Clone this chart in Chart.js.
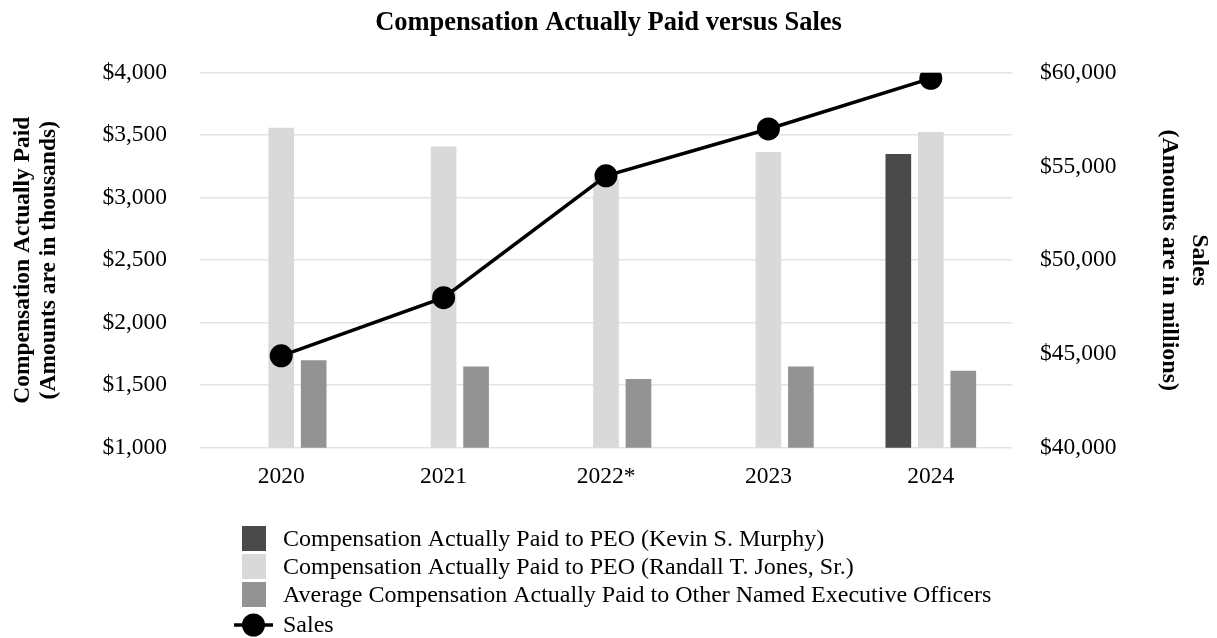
<!DOCTYPE html>
<html><head><meta charset="utf-8">
<script src="https://cdn.jsdelivr.net/npm/chart.js@4/dist/chart.umd.min.js"></script>
<style>html,body{margin:0;padding:0;background:#fff}#wrap{position:relative;width:1217px;height:638px}</style>
</head><body><div id="wrap"><canvas id="c" width="1217" height="638"></canvas></div>
<script>
// ---- data ----
const categories = ['2020', '2021', '2022*', '2023', '2024'];
const capMurphy = [null, null, null, null, 3350];
const capJones = [3560, 3410, 3150, 3365, 3525];
const capOtherNEO = [1700, 1650, 1550, 1650, 1615];
const sales = [44900, 48000, 54500, 57000, 59700];
const seriesLabels = [
  'Compensation Actually Paid to PEO (Kevin S. Murphy)',
  'Compensation Actually Paid to PEO (Randall T. Jones, Sr.)',
  'Average Compensation Actually Paid to Other Named Executive Officers',
  'Sales'
];
const titleText = 'Compensation Actually Paid versus Sales';
const leftAxisTitle = ['Compensation Actually Paid', '(Amounts are in thousands)'];
const rightAxisTitle = ['Sales', '(Amounts are in millions)'];

// ---- styles ----
const SERIF = "'Liberation Serif', 'Times New Roman', serif";
const colMurphy = '#4a4a4a', colJones = '#d9d9d9', colNEO = '#939393';
const fmt = v => '$' + Number(v).toLocaleString('en-US');

const legendPlugin = {
  id: 'customLegend',
  afterDraw(chart) {
    const ctx = chart.ctx;
    const ds = chart.data.datasets;
    ctx.save();
    ctx.font = "24px " + SERIF;
    ctx.textBaseline = 'middle';
    ctx.textAlign = 'left';
    const rows = [538.5, 566.5, 594.5, 625];
    for (let i = 0; i < 3; i++) {
      ctx.fillStyle = ds[i].backgroundColor;
      ctx.fillRect(242, rows[i] - 12.5, 24, 25);
      ctx.fillStyle = '#000';
      ctx.fillText(ds[i].label, 283, rows[i] + 1);
    }
    ctx.strokeStyle = '#000';
    ctx.lineWidth = 3.5;
    ctx.beginPath(); ctx.moveTo(234, rows[3]); ctx.lineTo(273, rows[3]); ctx.stroke();
    ctx.beginPath(); ctx.arc(253.5, rows[3], 11.5, 0, Math.PI * 2); ctx.fillStyle = '#000'; ctx.fill();
    ctx.fillText(ds[3].label, 283, rows[3] + 1);
    ctx.restore();
  }
};

new Chart(document.getElementById('c'), {
  type: 'bar',
  data: {
    labels: categories,
    datasets: [
      { label: seriesLabels[0], data: capMurphy, backgroundColor: colMurphy, yAxisID: 'y', order: 1, barPercentage: 0.79, categoryPercentage: 0.6 },
      { label: seriesLabels[1], data: capJones, backgroundColor: colJones, yAxisID: 'y', order: 1, barPercentage: 0.79, categoryPercentage: 0.6 },
      { label: seriesLabels[2], data: capOtherNEO, backgroundColor: colNEO, yAxisID: 'y', order: 1, barPercentage: 0.79, categoryPercentage: 0.6 },
      { type: 'line', label: seriesLabels[3], data: sales, yAxisID: 'y2', order: 0,
        borderColor: '#000', backgroundColor: '#000', borderWidth: 3.5,
        pointRadius: 11.5, pointHoverRadius: 11.5, pointBackgroundColor: '#000', pointBorderWidth: 0, tension: 0 }
    ]
  },
  options: {
    responsive: false,
    animation: false,
    devicePixelRatio: 1,
    layout: { padding: { top: 0.7, left: 0, right: 0, bottom: 0 } },
    plugins: {
      legend: { display: false },
      tooltip: { enabled: false },
      title: { display: true, text: titleText, color: '#000',
        font: { family: SERIF, size: 26.5, weight: 'bold', lineHeight: 1.2 },
        padding: { top: 6.1, bottom: 34.1 } }
    },
    scales: {
      x: {
        grid: { display: false, drawTicks: false },
        border: { display: false },
        ticks: { color: '#000', font: { family: SERIF, size: 23.5 }, padding: 15 },
        afterFit: s => { s.height = 190.3; }
      },
      y: {
        position: 'left', min: 1000, max: 4000,
        grid: { color: '#e3e3e3', lineWidth: 1.5, drawTicks: false },
        border: { display: false },
        ticks: { stepSize: 500, color: '#000', font: { family: SERIF, size: 23.5 }, padding: 33, callback: fmt },
        title: { display: true, text: leftAxisTitle, color: '#000',
          font: { family: SERIF, size: 23.5, weight: 'bold', lineHeight: 1.12 }, padding: { top: 9.3, bottom: 0 } },
        afterFit: s => { s.width = 200; }
      },
      y2: {
        position: 'right', min: 40000, max: 60000,
        grid: { display: false, drawTicks: false },
        border: { display: false },
        ticks: { stepSize: 5000, color: '#000', font: { family: SERIF, size: 23.5 }, padding: 28, callback: fmt },
        title: { display: true, text: rightAxisTitle, color: '#000',
          font: { family: SERIF, size: 24, weight: 'bold', lineHeight: 1.25 }, padding: { top: 2.5, bottom: 0 } },
        afterFit: s => { s.width = 205; }
      }
    }
  },
  plugins: [legendPlugin]
});
</script></body></html>
